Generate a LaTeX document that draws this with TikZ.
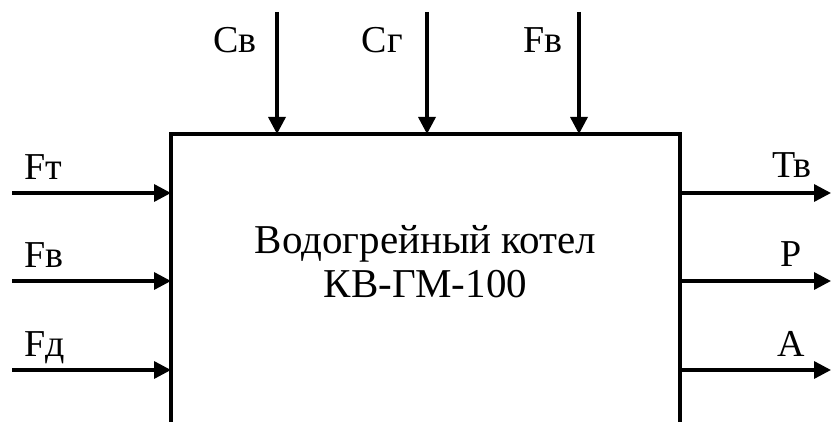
\documentclass[tikz,border=0pt]{standalone}
\usepackage{fontspec}
\setmainfont{Liberation Serif}
\usetikzlibrary{arrows.meta}
\begin{document}
\begin{tikzpicture}[x=1pt,y=-1pt,
  conn/.style={line width=3.4pt,-{Triangle[length=17pt,width=17pt]}},
  lbl/.style={inner sep=0pt,font=\fontsize{38}{44}\selectfont},
  ttl/.style={inner sep=0pt,font=\fontsize{41}{46}\selectfont},
]
\useasboundingbox (0,0) rectangle (831,422);
\clip (0,0) rectangle (831,422);
\node[draw,line width=3.4pt,inner sep=0pt,outer sep=0pt,minimum width=509pt,minimum height=367pt] (box) at (425.5,317.5) {};
\node[ttl,anchor=base] (title1) at (425.5,254) {Водогрейный котел};
\node[ttl,anchor=base] (title2) at (425.5,298) {КВ-ГМ-100};
% top inputs
\coordinate (t1) at (277,12);
\coordinate (t2) at (427,12);
\coordinate (t3) at (579,12);
\draw[conn] (t1) -- (t1 |- box.north);
\draw[conn] (t2) -- (t2 |- box.north);
\draw[conn] (t3) -- (t3 |- box.north);
\node[lbl,anchor=base east] (lt1) at (257,53) {Св};
\node[lbl,anchor=base east] (lt2) at (403,53) {Сг};
\node[lbl,anchor=base east] (lt3) at (563,53) {Fв};
% left inputs
\coordinate (l1) at (12,193);
\coordinate (l2) at (12,281);
\coordinate (l3) at (12,370);
\draw[conn] (l1) -- (l1 -| box.west);
\draw[conn] (l2) -- (l2 -| box.west);
\draw[conn] (l3) -- (l3 -| box.west);
\node[lbl,anchor=base west] (ll1) at (24,180) {Fт};
\node[lbl,anchor=base west] (ll2) at (24,268) {Fв};
\node[lbl,anchor=base west] (ll3) at (24,357) {Fд};
% right outputs
\coordinate (r1) at (831,193);
\coordinate (r2) at (831,281);
\coordinate (r3) at (831,370);
\draw[conn] (r1 -| box.east) -- (r1);
\draw[conn] (r2 -| box.east) -- (r2);
\draw[conn] (r3 -| box.east) -- (r3);
\node[lbl,anchor=base east] (lr1) at (812,178) {Тв};
\node[lbl,anchor=base east] (lr2) at (802,267) {Р};
\node[lbl,anchor=base east] (lr3) at (805,357) {А};
\end{tikzpicture}
\end{document}
